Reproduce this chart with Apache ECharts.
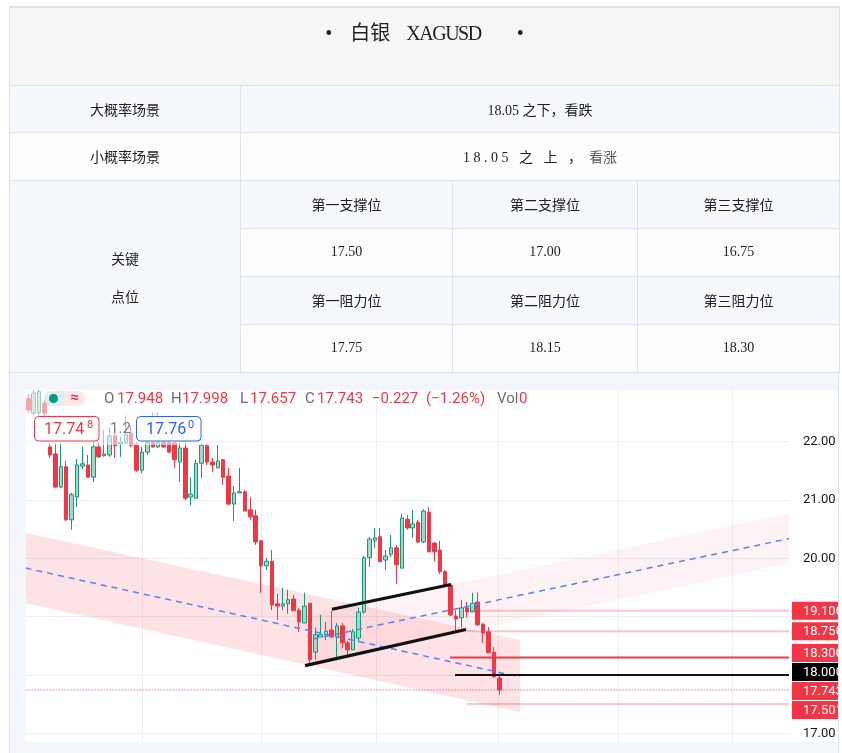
<!DOCTYPE html>
<html lang="zh">
<head>
<meta charset="utf-8">
<title>白银 XAGUSD</title>
<script src="https://cdn.jsdelivr.net/npm/echarts@6.0.0/dist/echarts.min.js"></script>
<style>
html,body{margin:0;padding:0;background:#fff;}
#wrap{position:relative;width:842px;height:753px;overflow:hidden;}
#chart{position:absolute;left:0;top:0;width:842px;height:753px;z-index:1;}
#tbl{position:absolute;left:9px;top:6px;z-index:2;border-collapse:collapse;table-layout:fixed;width:830px;
 font-family:"Liberation Serif","Noto Sans CJK SC",serif;font-size:14px;color:#222;}
#tbl td{border:1px solid #dfe3e8;text-align:center;vertical-align:middle;padding:0;}
#tbl tr.title td{background:#f6f6f6;vertical-align:top;font-size:20px;line-height:26px;padding-top:12px;border-top:2px solid #e2e2e2;}
#tbl .blue{background:#f5f9fd;}
#tbl .white{background:#fdfdfd;}
#tbl .key{background:#f5f9fd;line-height:38px;padding-top:6px;}
</style>
</head>
<body>
<div id="wrap">
<div id="chart"></div>
<table id="tbl"></table>
</div>
<script>
// ================= DATA =================
const titleText = ['白银', 'XAGUSD'];
const scenarioLabels = ['大概率场景', '小概率场景'];
const scenarioLevel = ['18.05', '18.05'];
const scenarioViews = ['之下，看跌', '之 上 ，'];
const scenarioTail = ['', '看涨'];
const keyLabels = ['关键', '点位'];
const supportNames = ['第一支撑位', '第二支撑位', '第三支撑位'];
const supportValues = ['17.50', '17.00', '16.75'];
const resistNames = ['第一阻力位', '第二阻力位', '第三阻力位'];
const resistValues = ['17.75', '18.15', '18.30'];

// candles (oldest -> newest)
const candleOpen = [22.74,22.49,22.50,22.66,21.91,21.79,21.22,21.57,20.66,21.05,
 21.58,21.60,21.39,21.91,21.76,21.77,22.10,21.96,21.98,22.14,
 21.94,21.51,21.82,21.99,21.91,21.99,21.99,21.98,21.65,21.89,
 21.05,21.03,21.63,21.93,21.65,21.55,21.69,21.41,20.93,21.12,
 21.14,20.83,20.73,20.30,19.87,19.95,19.22,19.18,19.22,19.30,
 19.11,18.89,19.23,18.39,18.65,18.69,18.77,18.65,18.84,18.55,
 18.43,18.63,19.08,20.01,20.31,20.37,19.97,20.07,20.18,19.83,
 20.67,20.52,20.62,20.28,20.79,20.26,20.14,19.77,19.54,19.01,
 18.98,19.15,19.08,19.25,18.87,18.74,18.39,17.948];
const candleHigh = [22.82,22.95,22.95,22.72,21.98,21.98,21.98,21.67,21.12,21.70,
 21.91,21.77,22.03,21.99,22.20,22.25,22.30,22.08,22.45,22.28,
 21.99,21.91,22.15,22.50,22.50,22.15,22.03,21.99,21.99,21.99,
 21.39,21.69,21.98,21.96,21.72,21.94,21.70,21.55,21.24,21.55,
 21.17,21.05,20.83,20.31,20.01,20.14,19.39,19.49,19.46,19.37,
 19.15,19.41,19.23,18.81,19.03,18.91,19.10,18.89,18.89,18.58,
 18.79,19.15,20.04,20.37,20.52,20.52,20.14,20.40,20.23,20.76,
 20.74,20.83,20.66,20.84,20.88,20.28,20.30,19.80,19.57,19.11,
 19.29,19.25,19.41,19.41,18.89,18.82,18.48,17.998];
const candleLow = [22.50,22.45,22.42,22.20,21.72,21.20,21.20,20.64,20.49,20.88,
 21.53,21.38,21.31,21.72,21.74,21.74,21.72,21.74,21.96,21.90,
 21.48,21.46,21.77,21.90,21.89,21.89,21.81,21.55,21.31,21.00,
 20.91,21.03,21.37,21.60,21.48,21.55,21.26,20.91,20.64,21.12,
 20.81,20.66,20.23,19.41,19.80,19.11,18.94,19.11,19.05,19.10,
 18.74,18.89,18.17,18.26,18.65,18.60,18.65,18.26,18.46,18.34,
 18.43,18.57,19.05,19.85,20.18,19.94,19.80,20.02,19.56,19.83,
 20.49,20.35,20.26,20.26,20.11,19.95,19.73,19.51,19.01,18.72,
 18.81,18.99,19.08,18.84,18.55,18.38,17.95,17.657];
const candleClose = [22.54,22.83,22.86,22.49,21.77,21.22,21.57,20.66,21.09,21.60,
 21.62,21.39,21.91,21.74,21.79,22.10,21.93,21.99,22.12,21.94,
 21.51,21.82,21.99,21.91,21.99,21.91,21.82,21.69,21.89,21.03,
 21.10,21.63,21.94,21.65,21.60,21.67,21.39,20.93,21.12,21.14,
 20.81,20.71,20.28,19.87,19.95,19.20,19.18,19.22,19.29,19.10,
 18.91,19.18,18.26,18.69,18.69,18.75,18.65,18.84,18.55,18.43,
 18.74,19.08,20.01,20.33,20.35,19.94,20.04,20.18,19.89,20.69,
 20.52,20.59,20.28,20.81,20.11,20.11,19.77,19.54,19.03,18.96,
 19.15,19.08,19.23,18.86,18.72,18.38,17.97,17.743];
const slotCount = 141;                       // bars incl. empty future space
const categories = Array.from({length: slotCount}, (_, i) => 'K' + (i + 1));

// y-axis
const yMin = 16, yMax = 23, yStep = 1;
const yLabelValues = [17, 20, 21, 22];

// vertical (time) gridlines, in bar-index units
const timeGridIdx = [21.0, 42.98, 64.22, 86.69, 108.85, 129.97];

// drawings (bar index, price)
const descBandX = [-0.5, 90.82], descBandTop = [20.432, 18.600], descBandBottom = [19.232, 17.365];
const descMidX = [-0.5, 90.82], descMidY = [19.832, 17.965];
const ascBandX = [52.58, 140.5], ascBandTop = [19.046, 20.767], ascBandBottom = [18.188, 19.909];
const ascMidX = [52.58, 140.5], ascMidY = [18.617, 20.338];
const flagUpperX = [56.09, 78.07], flagUpperY = [19.126, 19.551];
const flagLowerX = [51.11, 80.84], flagLowerY = [18.159, 18.780];

// horizontal levels
const levelPrices = [19.10, 18.75, 18.30, 18.00, 17.50];
const levelStartIdx = [81.58, 81.03, 77.89, 78.81, 81.03];
const lastPrice = 17.743;

// right-side price tags
const tagPrices = [19.100, 18.750, 18.300, 18.000, 17.743, 17.501];

// legend
const legendKeys = ['O', 'H', 'L', 'C'];
const legendVals = ['17.948', '17.998', '17.657', '17.743'];
const legendChange = ['\u22120.227', '(\u22121.26%)'];
const legendVol = ['Vol', '0'];
const bidAsk = ['17.74', '8', '1.2', '17.76', '0'];

// ================= TABLE =================
(function buildTable(){
  const t = document.getElementById('tbl');
  let h = '<colgroup><col style="width:231px"><col style="width:212px"><col style="width:185px"><col style="width:202px"></colgroup>';
  h += '<tr class="title" style="height:78px"><td colspan="4"><span>\u2022</span><span style="margin-left:18px">' + titleText[0] + '</span><span style="margin-left:16px;letter-spacing:-1.5px">' + titleText[1] + '</span><span style="margin-left:36px">\u2022</span></td></tr>';
  h += '<tr style="height:47px"><td class="blue">' + scenarioLabels[0] + '</td><td colspan="3" class="blue">' + scenarioLevel[0] + ' ' + scenarioViews[0] + '</td></tr>';
  h += '<tr style="height:48px"><td class="white">' + scenarioLabels[1] + '</td><td colspan="3" class="white"><span style="letter-spacing:3.5px">' + scenarioLevel[1] + ' ' + scenarioViews[1] + '</span> <span style="color:#555">' + scenarioTail[1] + '</span></td></tr>';
  h += '<tr style="height:48px"><td rowspan="4" class="key">' + keyLabels[0] + '<br>' + keyLabels[1] + '</td>' + supportNames.map(s => '<td class="blue">' + s + '</td>').join('') + '</tr>';
  h += '<tr style="height:48px">' + supportValues.map(s => '<td class="white">' + s + '</td>').join('') + '</tr>';
  h += '<tr style="height:48px">' + resistNames.map(s => '<td class="blue">' + s + '</td>').join('') + '</tr>';
  h += '<tr style="height:48px">' + resistValues.map(s => '<td class="white">' + s + '</td>').join('') + '</tr>';
  t.innerHTML = h;
})();

// ================= CHART =================
const chart = echarts.init(document.getElementById('chart'), null, {renderer: 'canvas'});
const FONT = 'Roboto, "Noto Sans", sans-serif';
const RED = '#f23645', GREEN = '#089981';
const gridLeft = 25.6, gridTop = 383.3, gridW = 763.4, gridH = 408.3;

const candleData = candleOpen.map((o, i) => [o, candleClose[i], candleLow[i], candleHigh[i]]);

function lineSeries(xs, ys, style, z){
  return {type: 'line', xAxisIndex: 1, yAxisIndex: 0, data: xs.map((x, i) => [x, ys[i]]),
    symbol: 'none', showSymbol: false, silent: true, clip: true, z: z, lineStyle: style, animation: false};
}
function bandSeries(xs, tops, bots, fill){
  return {type: 'custom', xAxisIndex: 1, yAxisIndex: 0, clip: true, silent: true, z: 1,
    data: [[xs[0], tops[0]]],
    renderItem: (p, api) => ({type: 'polygon',
      shape: {points: [api.coord([xs[0], tops[0]]), api.coord([xs[1], tops[1]]), api.coord([xs[1], bots[1]]), api.coord([xs[0], bots[0]])]},
      style: {fill: fill}})};
}

const series = [
  {type: 'custom', xAxisIndex: 1, yAxisIndex: 0, silent: true, z: 0,
   data: timeGridIdx.map(v => [v, yMin]),
   renderItem: (p, api) => {
     const a = api.coord([api.value(0), yMax]), b = api.coord([api.value(0), yMin]);
     return {type: 'line', shape: {x1: Math.round(a[0]) + 0.5, y1: a[1], x2: Math.round(a[0]) + 0.5, y2: b[1]}, style: {stroke: '#eceef1', lineWidth: 1}};
   }},
  bandSeries(descBandX, descBandTop, descBandBottom, 'rgba(242,54,69,0.14)'),
  bandSeries(ascBandX, ascBandTop, ascBandBottom, 'rgba(242,54,69,0.06)'),
  {type: 'candlestick', xAxisIndex: 0, yAxisIndex: 0, data: candleData, barWidth: 4, z: 2, silent: true,
   itemStyle: {color: '#9fd9c9', color0: RED, borderColor: '#14997b', borderColor0: RED, borderWidth: 1}},
  lineSeries(descMidX, descMidY, {color: '#5b7ff5', width: 1.5, type: [6, 5]}, 3),
  lineSeries(ascMidX, ascMidY, {color: '#5b7ff5', width: 1.5, type: [6, 5]}, 3),
  lineSeries(flagUpperX, flagUpperY, {color: '#111', width: 3.2}, 4),
  lineSeries(flagLowerX, flagLowerY, {color: '#111', width: 3.2}, 4),
  lineSeries([levelStartIdx[0], 140.5], [levelPrices[0], levelPrices[0]], {color: 'rgba(242,54,69,0.28)', width: 2}, 3),
  lineSeries([levelStartIdx[1], 140.5], [levelPrices[1], levelPrices[1]], {color: 'rgba(242,54,69,0.28)', width: 2}, 3),
  lineSeries([levelStartIdx[2], 140.5], [levelPrices[2], levelPrices[2]], {color: RED, width: 2}, 3),
  lineSeries([levelStartIdx[3], 140.5], [levelPrices[3], levelPrices[3]], {color: '#111', width: 2}, 3),
  lineSeries([levelStartIdx[4], 140.5], [levelPrices[4], levelPrices[4]], {color: 'rgba(242,54,69,0.28)', width: 2}, 3),
  lineSeries([-0.5, 140.5], [lastPrice, lastPrice], {color: RED, width: 1, type: [1, 2]}, 3)
];

chart.setOption({
  animation: false,
  backgroundColor: '#fff',
  grid: {left: gridLeft, top: gridTop, width: gridW, height: gridH, containLabel: false, outerBoundsMode: 'none'},
  xAxis: [
    {type: 'category', data: categories, boundaryGap: true, show: false},
    {type: 'value', min: -0.5, max: slotCount - 0.5, show: false}
  ],
  yAxis: {type: 'value', position: 'right', min: yMin, max: yMax, interval: yStep,
    axisLine: {show: false}, axisTick: {show: false},
    splitLine: {lineStyle: {color: '#eceef1', width: 1}},
    axisLabel: {margin: 14, color: '#131722', fontSize: 13, fontFamily: FONT, align: 'left',
      formatter: v => yLabelValues.indexOf(v) >= 0 ? v.toFixed(2) : ''}},
  series: series
});

// ---------- overlay graphics ----------
const g = [];
// faded zone behind legend
g.push({type: 'rect', shape: {x: gridLeft, y: 388, width: 184, height: 57}, style: {fill: 'rgba(255,255,255,0.55)'}, z: 100});
// legend pill
g.push({type: 'rect', shape: {x: 44, y: 391, width: 20, height: 15, r: [7.5, 0, 0, 7.5]}, style: {fill: 'rgba(8,153,129,0.14)'}, z: 101});
g.push({type: 'rect', shape: {x: 64, y: 391, width: 21, height: 15, r: [0, 7.5, 7.5, 0]}, style: {fill: 'rgba(242,54,69,0.12)'}, z: 101});
g.push({type: 'circle', shape: {cx: 53.5, cy: 398.5, r: 4.5}, style: {fill: GREEN}, z: 102});
g.push({type: 'text', x: 74.5, y: 398.5, style: {text: '\u2248', fill: '#d8315b', font: 'bold 15px ' + FONT, textAlign: 'center', textVerticalAlign: 'middle'}, z: 102});
// OHLC legend
const keyX = [104, 171, 240, 305], valX = [117, 182, 250, 317];
legendKeys.forEach((k, i) => {
  g.push({type: 'text', x: keyX[i], y: 399, style: {text: k, fill: '#6a6d78', font: '15px ' + FONT, textVerticalAlign: 'middle'}, z: 102});
  g.push({type: 'text', x: valX[i], y: 399, style: {text: legendVals[i], fill: RED, font: '15px ' + FONT, textVerticalAlign: 'middle'}, z: 102});
});
g.push({type: 'text', x: 372, y: 399, style: {text: legendChange[0], fill: RED, font: '15px ' + FONT, textVerticalAlign: 'middle'}, z: 102});
g.push({type: 'text', x: 426, y: 399, style: {text: legendChange[1], fill: RED, font: '15px ' + FONT, textVerticalAlign: 'middle'}, z: 102});
g.push({type: 'text', x: 497, y: 399, style: {text: legendVol[0], fill: '#6a6d78', font: '15px ' + FONT, textVerticalAlign: 'middle'}, z: 102});
g.push({type: 'text', x: 519, y: 399, style: {text: legendVol[1], fill: RED, font: '15px ' + FONT, textVerticalAlign: 'middle'}, z: 102});
// bid / ask boxes
g.push({type: 'rect', shape: {x: 34.5, y: 416.5, width: 64.5, height: 24.5, r: 4}, style: {fill: '#fff', stroke: RED, lineWidth: 1}, z: 101});
g.push({type: 'text', x: 44, y: 429.5, style: {text: bidAsk[0], fill: RED, font: '16px ' + FONT, textVerticalAlign: 'middle'}, z: 102});
g.push({type: 'text', x: 87, y: 425, style: {text: bidAsk[1], fill: RED, font: '11px ' + FONT, textVerticalAlign: 'middle'}, z: 102});
g.push({type: 'text', x: 110, y: 429.5, style: {text: bidAsk[2], fill: '#787b86', font: '15px ' + FONT, textVerticalAlign: 'middle'}, z: 102});
g.push({type: 'rect', shape: {x: 136.5, y: 416.5, width: 64.5, height: 24.5, r: 4}, style: {fill: '#fff', stroke: '#2962ff', lineWidth: 1}, z: 101});
g.push({type: 'text', x: 146, y: 429.5, style: {text: bidAsk[3], fill: '#2962ff', font: '16px ' + FONT, textVerticalAlign: 'middle'}, z: 102});
g.push({type: 'text', x: 188, y: 425, style: {text: bidAsk[4], fill: '#2962ff', font: '11px ' + FONT, textVerticalAlign: 'middle'}, z: 102});

// price tags (positions from the y scale, then de-overlapped)
const tagH = 18, tagGap = 1;
const tagY = tagPrices.map(p => chart.convertToPixel({yAxisIndex: 0}, p));
for (let it = 0; it < 200; it++) {
  for (let i = 0; i < tagY.length - 1; i++) {
    const d = tagY[i + 1] - tagY[i];
    if (d < tagH + tagGap) { const s = (tagH + tagGap - d) / 2; tagY[i] -= s; tagY[i + 1] += s; }
  }
}
tagPrices.forEach((p, i) => {
  const bg = (p === 18.000) ? '#000' : RED;
  g.push({type: 'rect', shape: {x: 792, y: tagY[i] - tagH / 2, width: 50, height: tagH}, style: {fill: bg}, z: 103});
  g.push({type: 'text', x: 803, y: tagY[i] + 0.5, style: {text: p.toFixed(3), fill: '#fff', font: '13px ' + FONT, textVerticalAlign: 'middle'}, z: 104});
});

// frame around the chart picture
const FRAME = '#f3f6fb';
g.push({type: 'rect', shape: {x: 9, y: 372, width: 830, height: 18}, style: {fill: FRAME}, z: 110});
g.push({type: 'rect', shape: {x: 9, y: 372, width: 16.6, height: 381}, style: {fill: FRAME}, z: 110});
g.push({type: 'rect', shape: {x: 9, y: 742, width: 830, height: 11}, style: {fill: FRAME}, z: 110});
g.push({type: 'rect', shape: {x: 838, y: 372, width: 4, height: 381}, style: {fill: '#fff'}, z: 110});
g.push({type: 'line', shape: {x1: 9.5, y1: 372, x2: 9.5, y2: 753}, style: {stroke: '#dfe3e8', lineWidth: 1}, z: 111});
g.push({type: 'line', shape: {x1: 838.5, y1: 372, x2: 838.5, y2: 753}, style: {stroke: '#dfe3e8', lineWidth: 1}, z: 111});

chart.setOption({graphic: g});
</script>
</body>
</html>
